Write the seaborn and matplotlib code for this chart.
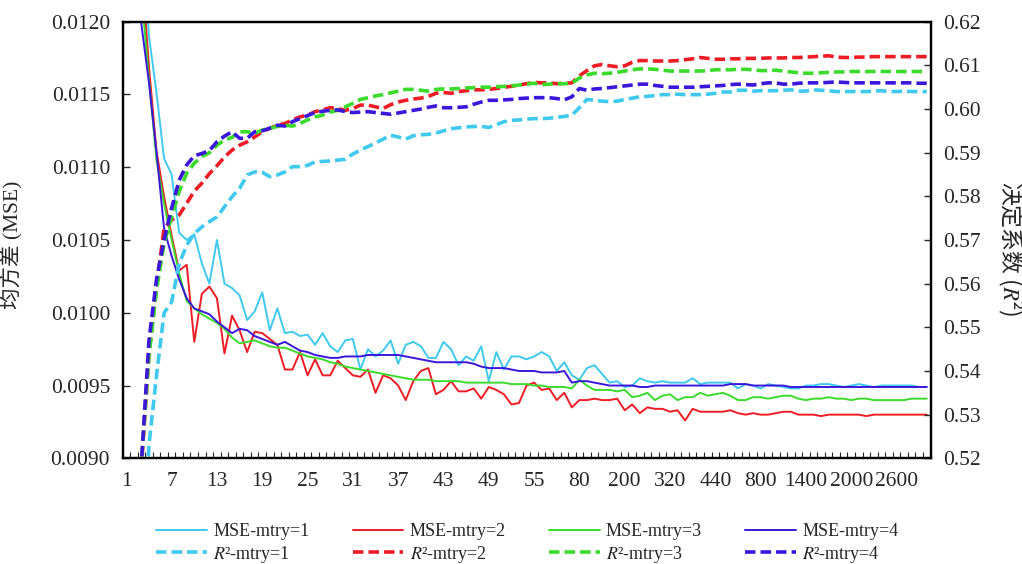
import numpy as np
import pandas as pd
import seaborn as sns
import matplotlib
matplotlib.use('Agg')
import matplotlib.pyplot as plt
from matplotlib.ticker import FixedLocator, FormatStrFormatter, MultipleLocator

# ntree categories on the x axis (evenly spaced, category axis)
ntree = list(range(1, 61)) + list(range(80, 501, 20)) + list(range(600, 3001, 100))

# MSE, mtry = 1..4
mse1 = [0.0180, 0.0150, 0.0128, 0.0119, 0.01151, 0.01106, 0.01095, 0.01055, 0.01050, 0.01054,
        0.01034, 0.01020, 0.01050, 0.01020, 0.01017, 0.01012, 0.00995, 0.01001, 0.01014, 0.00988,
        0.01003, 0.00986, 0.00987, 0.00984, 0.00985, 0.00978, 0.00986, 0.00977, 0.00973, 0.00981,
        0.00982, 0.00961, 0.00975, 0.00970, 0.00974, 0.00981, 0.00965, 0.00978, 0.00980, 0.00977,
        0.00969, 0.00969, 0.00980, 0.00975, 0.00964, 0.00970, 0.00967, 0.00977, 0.00953, 0.00973,
        0.00961, 0.00970, 0.00970, 0.00968, 0.00970, 0.00973, 0.00970, 0.00960, 0.00966, 0.00957,
        0.00954, 0.00962, 0.00964, 0.00958, 0.00952, 0.00953, 0.00949, 0.00950, 0.00955, 0.00953,
        0.00952, 0.00953, 0.00952, 0.00952, 0.00952, 0.00955, 0.00951, 0.00952, 0.00952, 0.00952,
        0.00952, 0.00948, 0.00951, 0.00950, 0.00948, 0.00951, 0.00950, 0.00949, 0.00948, 0.00948,
        0.00950, 0.00950, 0.00951, 0.00951, 0.00950, 0.00949, 0.00950, 0.00951, 0.00950, 0.00949,
        0.00950, 0.00950, 0.00950, 0.00950, 0.00950, 0.00949, 0.00949]
mse2 = [0.0175, 0.0145, 0.0124, 0.01169, 0.01111, 0.01080, 0.01053, 0.01029, 0.01033, 0.00980,
        0.01013, 0.01018, 0.01010, 0.00972, 0.00998, 0.00988, 0.00973, 0.00987, 0.00986, 0.00982,
        0.00978, 0.00961, 0.00961, 0.00973, 0.00957, 0.00968, 0.00957, 0.00957, 0.00967, 0.00962,
        0.00957, 0.00956, 0.00961, 0.00945, 0.00957, 0.00955, 0.00950, 0.00940, 0.00953, 0.00960,
        0.00962, 0.00944, 0.00947, 0.00953, 0.00946, 0.00946, 0.00948, 0.00941, 0.00949, 0.00947,
        0.00944, 0.00937, 0.00938, 0.00950, 0.00952, 0.00947, 0.00948, 0.00940, 0.00945, 0.00935,
        0.00940, 0.00940, 0.00941, 0.00940, 0.00940, 0.00941, 0.00933, 0.00937, 0.00931, 0.00935,
        0.00934, 0.00934, 0.00932, 0.00933, 0.00926, 0.00934, 0.00932, 0.00932, 0.00932, 0.00932,
        0.00933, 0.00931, 0.00930, 0.00931, 0.00930, 0.00930, 0.00931, 0.00932, 0.00932, 0.00930,
        0.00930, 0.00930, 0.00929, 0.00930, 0.00930, 0.00930, 0.00930, 0.00930, 0.00929, 0.00930,
        0.00930, 0.00930, 0.00930, 0.00930, 0.00930, 0.00930, 0.00930]
mse3 = [0.0172, 0.0143, 0.0122, 0.0116, 0.01105, 0.01075, 0.01050, 0.01027, 0.01008, 0.01003,
        0.00999, 0.00996, 0.00993, 0.00989, 0.00983, 0.00979, 0.00980, 0.00981, 0.00979, 0.00977,
        0.00976, 0.00976, 0.00974, 0.00972, 0.00970, 0.00969, 0.00968, 0.00966, 0.00965, 0.00963,
        0.00962, 0.00961, 0.00960, 0.00959, 0.00958, 0.00957, 0.00956, 0.00955, 0.00954, 0.00954,
        0.00954, 0.00953, 0.00953, 0.00953, 0.00953, 0.00952, 0.00952, 0.00952, 0.00952, 0.00952,
        0.00952, 0.00951, 0.00951, 0.00951, 0.00950, 0.00950, 0.00949, 0.00949, 0.00949, 0.00948,
        0.00954, 0.00950, 0.00947, 0.00947, 0.00947, 0.00946, 0.00947, 0.00942, 0.00943, 0.00945,
        0.00940, 0.00943, 0.00944, 0.00940, 0.00942, 0.00942, 0.00945, 0.00943, 0.00944, 0.00945,
        0.00943, 0.00940, 0.00940, 0.00942, 0.00942, 0.00941, 0.00942, 0.00943, 0.00943, 0.00941,
        0.00940, 0.00941, 0.00941, 0.00942, 0.00941, 0.00941, 0.00940, 0.00941, 0.00941, 0.00940,
        0.00940, 0.00940, 0.00940, 0.00940, 0.00941, 0.00941, 0.00941]
mse4 = [0.0168, 0.0138, 0.01198, 0.01158, 0.01110, 0.01058, 0.01039, 0.01023, 0.01010, 0.01003,
        0.01001, 0.00999, 0.00994, 0.00990, 0.00986, 0.00989, 0.00988, 0.00984, 0.00982, 0.00980,
        0.00978, 0.00980, 0.00977, 0.00974, 0.00973, 0.00971, 0.00970, 0.00969, 0.00969, 0.00970,
        0.00970, 0.00970, 0.00971, 0.00971, 0.00971, 0.00971, 0.00971, 0.00970, 0.00969, 0.00968,
        0.00967, 0.00966, 0.00966, 0.00966, 0.00966, 0.00966, 0.00965, 0.00963, 0.00962, 0.00962,
        0.00962, 0.00961, 0.00960, 0.00960, 0.00960, 0.00959, 0.00959, 0.00959, 0.00960, 0.00952,
        0.00953, 0.00953, 0.00952, 0.00951, 0.00950, 0.00950, 0.00950, 0.00950, 0.00949, 0.00949,
        0.00950, 0.00950, 0.00950, 0.00950, 0.00950, 0.00950, 0.00950, 0.00950, 0.00950, 0.00950,
        0.00951, 0.00951, 0.00951, 0.00950, 0.00950, 0.00950, 0.00950, 0.00950, 0.00949, 0.00949,
        0.00949, 0.00949, 0.00949, 0.00949, 0.00949, 0.00949, 0.00949, 0.00949, 0.00949, 0.00949,
        0.00949, 0.00949, 0.00949, 0.00949, 0.00949, 0.00949, 0.00949]

# R2, mtry = 1..4
r2_1 = [0.400, 0.460, 0.490, 0.523, 0.539, 0.5533, 0.5558, 0.5646, 0.5688, 0.5715,
        0.5730, 0.5742, 0.5753, 0.5776, 0.5799, 0.5818, 0.5849, 0.5856, 0.5855, 0.5845,
        0.5849, 0.5856, 0.5868, 0.5868, 0.5871, 0.5879, 0.5880, 0.5881, 0.5883, 0.5885,
        0.5897, 0.5906, 0.5914, 0.5922, 0.5931, 0.5940, 0.5936, 0.5931, 0.5939, 0.5941,
        0.5942, 0.5945, 0.5950, 0.5955, 0.5957, 0.5959, 0.5960, 0.5960, 0.5958, 0.5964,
        0.5971, 0.5974, 0.5975, 0.5977, 0.5978, 0.5978, 0.5979, 0.5981, 0.5983, 0.5986,
        0.6003, 0.6022, 0.6020, 0.6018, 0.6017, 0.6018, 0.6022, 0.6025, 0.6028, 0.6029,
        0.6031, 0.6033, 0.6033, 0.6034, 0.6033, 0.6033, 0.6033, 0.6034, 0.6036, 0.6039,
        0.6039, 0.6043, 0.6043, 0.6041, 0.6042, 0.6042, 0.6042, 0.6043, 0.6044, 0.6041,
        0.6041, 0.6044, 0.6043, 0.6042, 0.6040, 0.6040, 0.6040, 0.6040, 0.6040, 0.6041,
        0.6042, 0.6040, 0.6040, 0.6041, 0.6040, 0.6040, 0.6040]
r2_2 = [0.400, 0.470, 0.518, 0.544, 0.5593, 0.5727, 0.5746, 0.5757, 0.5784, 0.5812,
        0.5830, 0.5852, 0.5870, 0.5890, 0.5906, 0.5917, 0.5925, 0.5936, 0.5948, 0.5956,
        0.5963, 0.5967, 0.5975, 0.5982, 0.5986, 0.5994, 0.5998, 0.6003, 0.6001, 0.5997,
        0.6001, 0.6009, 0.6009, 0.6005, 0.6001, 0.6010, 0.6016, 0.6020, 0.6023, 0.6025,
        0.6029, 0.6036, 0.6038, 0.6036, 0.6040, 0.6042, 0.6044, 0.6044, 0.6045, 0.6047,
        0.6050, 0.6052, 0.6055, 0.6058, 0.6061, 0.6060, 0.6060, 0.6058, 0.6059, 0.6060,
        0.6076, 0.6088, 0.6099, 0.6102, 0.6099, 0.6097, 0.6099, 0.6107, 0.6111, 0.6111,
        0.6110, 0.6110, 0.6110, 0.6111, 0.6113, 0.6115, 0.6118, 0.6116, 0.6114, 0.6114,
        0.6115, 0.6115, 0.6116, 0.6116, 0.6116, 0.6117, 0.6117, 0.6117, 0.6118, 0.6118,
        0.6119, 0.6120, 0.6121, 0.6122, 0.6119, 0.6118, 0.6118, 0.6119, 0.6119, 0.6120,
        0.6120, 0.6120, 0.6120, 0.6120, 0.6120, 0.6120, 0.6120]
r2_3 = [0.400, 0.470, 0.519, 0.5433, 0.5585, 0.5692, 0.5753, 0.5811, 0.5853, 0.5876,
        0.5891, 0.5900, 0.5917, 0.5929, 0.5935, 0.5948, 0.5948, 0.5944, 0.5952, 0.5956,
        0.5960, 0.5963, 0.5961, 0.5967, 0.5975, 0.5982, 0.5986, 0.5993, 0.5997, 0.6005,
        0.6013, 0.6022, 0.6026, 0.6030, 0.6033, 0.6037, 0.6041, 0.6045, 0.6045, 0.6043,
        0.6041, 0.6045, 0.6046, 0.6046, 0.6047, 0.6048, 0.6049, 0.6050, 0.6050, 0.6051,
        0.6052, 0.6053, 0.6055, 0.6057, 0.6059, 0.6056, 0.6057, 0.6058, 0.6058, 0.6059,
        0.6071, 0.6078, 0.6082, 0.6081, 0.6082, 0.6084, 0.6087, 0.6090, 0.6092, 0.6092,
        0.6091, 0.6089, 0.6087, 0.6087, 0.6087, 0.6087, 0.6087, 0.6088, 0.6090, 0.6090,
        0.6090, 0.6091, 0.6091, 0.6090, 0.6088, 0.6088, 0.6089, 0.6087, 0.6085, 0.6083,
        0.6082, 0.6082, 0.6083, 0.6084, 0.6085, 0.6085, 0.6086, 0.6086, 0.6086, 0.6086,
        0.6086, 0.6086, 0.6086, 0.6086, 0.6086, 0.6086, 0.6086]
r2_4 = [0.400, 0.470, 0.519, 0.547, 0.561, 0.570, 0.5773, 0.5837, 0.5872, 0.5893,
        0.5898, 0.5905, 0.5925, 0.5938, 0.5948, 0.5933, 0.5933, 0.5948, 0.5950, 0.5956,
        0.5963, 0.5961, 0.5971, 0.5978, 0.5985, 0.5992, 0.5995, 0.5997, 0.5998, 0.5994,
        0.5992, 0.5993, 0.5994, 0.5992, 0.5990, 0.5988, 0.5991, 0.5994, 0.5997, 0.6000,
        0.6004, 0.6007, 0.6003, 0.6003, 0.6004, 0.6005, 0.6011, 0.6016, 0.6020, 0.6020,
        0.6021, 0.6022, 0.6024, 0.6025, 0.6026, 0.6026, 0.6026, 0.6024, 0.6021, 0.6028,
        0.6047, 0.6043, 0.6046, 0.6047, 0.6049, 0.6051, 0.6053, 0.6055, 0.6057, 0.6057,
        0.6054, 0.6052, 0.6050, 0.6050, 0.6050, 0.6050, 0.6051, 0.6052, 0.6053, 0.6054,
        0.6056, 0.6057, 0.6056, 0.6055, 0.6058, 0.6060, 0.6060, 0.6057, 0.6057, 0.6059,
        0.6060, 0.6060, 0.6060, 0.6061, 0.6062, 0.6061, 0.6060, 0.6060, 0.6060, 0.6060,
        0.6060, 0.6060, 0.6060, 0.6060, 0.6060, 0.6059, 0.6059]

colors = ['#3FC9EE', '#EE1C25', '#3BDB2B', '#3A17DA']
mse_list = [mse1, mse2, mse3, mse4]
r2_list = [r2_1, r2_2, r2_3, r2_4]

sns.set_style('ticks')
plt.rcParams['font.family'] = ['Liberation Serif', 'Noto Sans CJK SC']
plt.rcParams['mathtext.fontset'] = 'stix'

pos = np.arange(len(ntree))

fig = plt.figure(figsize=(10.22, 5.64), dpi=100)
ax = fig.add_axes([0.1199, 0.1874, 0.7906, 0.7741])
ax2 = ax.twinx()

for k in range(4):
    df = pd.DataFrame({'pos': pos, 'mse': mse_list[k]})
    sns.lineplot(data=df, x='pos', y='mse', ax=ax, color=colors[k], linewidth=1.4,
                 label='MSE-mtry=%d' % (k + 1))
for k in range(4):
    df = pd.DataFrame({'pos': pos, 'r2': r2_list[k]})
    sns.lineplot(data=df, x='pos', y='r2', ax=ax2, color=colors[k], linewidth=2.6,
                 linestyle=(0, (2.9, 1.4)), label='$R$²-mtry=%d' % (k + 1))

for a in (ax, ax2):
    if a.get_legend() is not None:
        a.get_legend().remove()

ax.set_xlim(-0.5, len(ntree) - 0.5)
ax.set_ylim(0.0090, 0.0120)
ax2.set_ylim(0.52, 0.62)

label_pos = pos[::6]
ax.xaxis.set_major_locator(FixedLocator(label_pos))
ax.set_xticklabels([str(ntree[i]) for i in label_pos])
ax.xaxis.set_minor_locator(FixedLocator(np.arange(-0.5, len(ntree), 1.0)))
ax.tick_params(axis='x', which='major', length=0, pad=10, labelsize=15.5)
ax.tick_params(axis='x', which='minor', direction='in', length=4, width=0.8)

ax.yaxis.set_major_locator(MultipleLocator(0.0005))
ax.yaxis.set_major_formatter(FormatStrFormatter('%.4f'))
ax.tick_params(axis='y', direction='in', length=5, width=1, pad=9, labelsize=15.5)
ax2.yaxis.set_major_locator(MultipleLocator(0.01))
ax2.yaxis.set_major_formatter(FormatStrFormatter('%.2f'))
ax2.tick_params(axis='y', direction='in', length=5, width=1, pad=9, labelsize=15.5)

for a in (ax, ax2):
    for s in a.spines.values():
        s.set_visible(True)
        s.set_linewidth(1.6)
        s.set_color('black')

ax.set_xlabel('')
ax.set_ylabel('均方差 (MSE)', fontsize=15.5)
ax.yaxis.set_label_coords(-0.124, 0.49)
# mathtext has no font fallback, so the CJK font must be the label's own font
ax2.set_ylabel('决定系数 ($R$²)', fontsize=16.5, fontfamily='Noto Sans CJK SC',
               rotation=270, va='center', ha='center')
ax2.yaxis.set_label_coords(1.098, 0.48)

h1, l1 = ax.get_legend_handles_labels()
h2, l2 = ax2.get_legend_handles_labels()
handles = []
labels = []
for k in range(4):
    handles += [h1[k], h2[k]]
    labels += [l1[k], l2[k]]
fig.legend(handles, labels, loc='center', bbox_to_anchor=(0.516, 0.036), ncol=4,
           frameon=False, fontsize=13, handlelength=2.8, handletextpad=0.35,
           columnspacing=2.4, labelspacing=0.2)

fig.savefig('out.png', dpi=100)
